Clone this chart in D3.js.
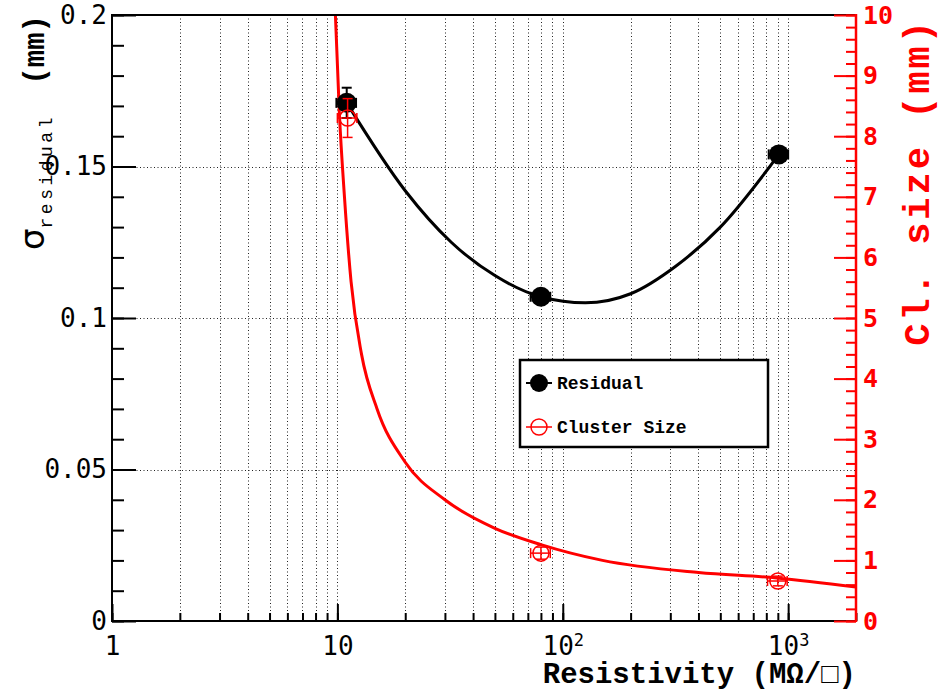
<!DOCTYPE html>
<html>
<head>
<meta charset="utf-8">
<script src="https://cdn.jsdelivr.net/npm/d3@7/dist/d3.min.js"></script>
<style>
  body { margin: 0; background: #fff; }
</style>
</head>
<body>
<div id="chart"></div>
<script>
// Residual points (left axis, mm)
var resX = [11, 80, 910];
var resY = [0.171, 0.107, 0.154];
var resYErr = [0.005, 0.002, 0.002];
var resXErr = [1.1, 8, 90];

// Cluster size points (right axis, mm)
var clX = [11.1, 80, 900];
var clY = [8.3, 1.12, 0.66];
var clYErr = [0.32, 0.1, 0.08];
var clXErr = [1.1, 8, 90];

// fit curves
var resFitX = [11, 20, 32, 50, 80, 126, 200, 316, 500, 910];
var resFitY = [0.171, 0.142, 0.125, 0.114, 0.107, 0.105, 0.108, 0.117, 0.130, 0.154];
var clFitX = [9.8, 10.2, 10.75, 11.5, 12.8, 15, 20, 30, 50, 80, 150, 400, 890, 2000];
var clFitY = [10, 8.4, 7.0, 5.6, 4.4, 3.5, 2.62, 2.0, 1.53, 1.26, 1.0, 0.8, 0.71, 0.56];

// axis tick labels
var xMajor = [1, 10, 100, 1000];
var xLabelBase = ["1", "10", "10", "10"];
var xLabelExp = ["", "", "2", "3"];
var yLeftMajor = [0, 0.05, 0.1, 0.15, 0.2];
var yLeftLabels = ["0", "0.05", "0.1", "0.15", "0.2"];

var legendNames = ["Residual", "Cluster Size"];

var width = 940, height = 691;
var pLeft = 112, pRight = 856, pTop = 15, pBottom = 621;
var red = "#ff0000";

var svg = d3.select("#chart").append("svg")
    .attr("width", width)
    .attr("height", height);

// Scales
var x = d3.scaleLog().domain([1, 2000]).range([pLeft, pRight]);
var yL = d3.scaleLinear().domain([0, 0.2]).range([pBottom, pTop]);
var yR = d3.scaleLinear().domain([0, 10]).range([pBottom, pTop]);

// Grid (dotted)
var grid = svg.append("g")
    .attr("stroke", "#222")
    .attr("stroke-width", 1)
    .attr("stroke-dasharray", "1,2.5");

grid.selectAll("line.v")
    .data(x.ticks().filter(function(d) { return d > 1 && d < 2000; }))
    .enter().append("line")
    .attr("class", "v")
    .attr("x1", function(d) { return Math.round(x(d)) + 0.5; })
    .attr("x2", function(d) { return Math.round(x(d)) + 0.5; })
    .attr("y1", pTop)
    .attr("y2", pBottom);

grid.selectAll("line.h")
    .data(yLeftMajor.filter(function(d) { return d > 0 && d < 0.2; }))
    .enter().append("line")
    .attr("class", "h")
    .attr("x1", pLeft)
    .attr("x2", pRight)
    .attr("y1", function(d) { return Math.round(yL(d)) + 0.5; })
    .attr("y2", function(d) { return Math.round(yL(d)) + 0.5; });

// clip for curves
svg.append("clipPath").attr("id", "plotclip")
  .append("rect")
    .attr("x", pLeft).attr("y", pTop)
    .attr("width", pRight - pLeft).attr("height", pBottom - pTop);

// Fit lines
var resLine = d3.line()
    .x(function(d, i) { return x(resFitX[i]); })
    .y(function(d) { return yL(d); })
    .curve(d3.curveMonotoneX);

var clLine = d3.line()
    .x(function(d, i) { return x(clFitX[i]); })
    .y(function(d) { return yR(d); })
    .curve(d3.curveMonotoneX);

svg.append("path")
    .datum(clFitY)
    .attr("clip-path", "url(#plotclip)")
    .attr("fill", "none")
    .attr("stroke", red)
    .attr("stroke-width", 3)
    .attr("d", clLine);

svg.append("path")
    .datum(resFitY)
    .attr("clip-path", "url(#plotclip)")
    .attr("fill", "none")
    .attr("stroke", "#000")
    .attr("stroke-width", 3)
    .attr("d", resLine);

// error bars helper
function errorBars(g, xs, ys, xe, ye, yScale, color, sw, cap) {
    xs.forEach(function(xv, i) {
        var cx = x(xv), cy = yScale(ys[i]);
        var y1 = yScale(ys[i] + ye[i]), y2 = yScale(ys[i] - ye[i]);
        var x1 = x(xv - xe[i]), x2 = x(xv + xe[i]);
        var lines = [
            [cx, y1, cx, y2], [cx - cap, y1, cx + cap, y1], [cx - cap, y2, cx + cap, y2],
            [x1, cy, x2, cy], [x1, cy - cap, x1, cy + cap], [x2, cy - cap, x2, cy + cap]
        ];
        lines.forEach(function(l) {
            g.append("line")
                .attr("x1", l[0]).attr("y1", l[1]).attr("x2", l[2]).attr("y2", l[3])
                .attr("stroke", color).attr("stroke-width", sw);
        });
    });
}

var resG = svg.append("g");
errorBars(resG, resX, resY, resXErr, resYErr, yL, "#000", 2, 5);
resG.selectAll("circle")
    .data(resY)
    .enter().append("circle")
    .attr("cx", function(d, i) { return x(resX[i]); })
    .attr("cy", function(d) { return yL(d); })
    .attr("r", 10)
    .attr("fill", "#000");

var clG = svg.append("g");
errorBars(clG, clX, clY, clXErr, clYErr, yR, red, 1.5, 5);
clG.selectAll("circle")
    .data(clY)
    .enter().append("circle")
    .attr("cx", function(d, i) { return x(clX[i]); })
    .attr("cy", function(d) { return yR(d); })
    .attr("r", 8)
    .attr("fill", "none")
    .attr("stroke", red)
    .attr("stroke-width", 1.5);

// Frame
svg.append("rect")
    .attr("x", pLeft).attr("y", pTop)
    .attr("width", pRight - pLeft).attr("height", pBottom - pTop)
    .attr("fill", "none")
    .attr("stroke", "#000")
    .attr("stroke-width", 2);

// Left axis (ticks inward)
var axL = svg.append("g").attr("transform", "translate(" + pLeft + ",0)");
axL.call(d3.axisLeft(yL).tickValues(yL.ticks(20)).tickSize(-12).tickFormat(""));
axL.append("g").call(d3.axisLeft(yL).tickValues(yLeftMajor).tickSize(-24).tickPadding(5)
    .tickFormat(function(d, i) { return yLeftLabels[i]; }));
axL.selectAll(".domain").remove();
axL.selectAll("line").attr("stroke", "#000").attr("stroke-width", 2);
axL.selectAll("text")
    .attr("fill", "#000")
    .style("font-family", "'DejaVu Sans Mono', monospace")
    .style("font-size", "26px");

// Bottom axis
var axB = svg.append("g").attr("transform", "translate(0," + pBottom + ")");
axB.call(d3.axisBottom(x).tickValues(x.ticks()).tickSize(-8).tickFormat(""));
var axBMajor = axB.append("g").call(d3.axisBottom(x).tickValues(xMajor).tickSize(-17).tickPadding(16)
    .tickFormat(function(d, i) { return xLabelBase[i]; }));
axB.selectAll(".domain").remove();
axB.selectAll("line").attr("stroke", "#000").attr("stroke-width", 2);
axBMajor.selectAll("text")
    .attr("fill", "#000")
    .style("font-family", "'DejaVu Sans Mono', monospace")
    .style("font-size", "26px")
    .each(function(d, i) {
        if (xLabelExp[i]) {
            d3.select(this).append("tspan")
                .attr("dy", "-0.55em")
                .style("font-size", "17px")
                .text(xLabelExp[i]);
        }
    });

// Right axis (red)
var axR = svg.append("g").attr("transform", "translate(" + pRight + ",0)");
axR.call(d3.axisRight(yR).tickValues(yR.ticks(50)).tickSize(-10).tickFormat(""));
axR.append("g").call(d3.axisRight(yR).tickValues(yR.ticks(10)).tickSize(-22).tickPadding(7)
    .tickFormat(d3.format("d")));
axR.selectAll(".domain").remove();
axR.selectAll("line").attr("stroke", red).attr("stroke-width", 2);
axR.selectAll("text")
    .attr("fill", red)
    .style("font-family", "'DejaVu Sans Mono', monospace")
    .style("font-weight", "bold")
    .style("font-size", "25px");
axR.append("line")
    .attr("x1", 0).attr("x2", 0).attr("y1", pTop - 1).attr("y2", pBottom + 1)
    .attr("stroke", red).attr("stroke-width", 2.5);

// Axis titles
var lt = svg.append("text")
    .attr("transform", "translate(44," + pTop + ") rotate(-90)")
    .attr("text-anchor", "end")
    .attr("fill", "#000")
    .style("font-family", "'Liberation Mono', monospace");
lt.append("tspan").style("font-family", "'DejaVu Sans', sans-serif").style("font-size", "34px").text("σ");
lt.append("tspan").attr("dy", 8).style("font-size", "18px").style("letter-spacing", "3.5px").text("residual");
lt.append("tspan").attr("dy", -8).attr("dx", 12).style("font-size", "29px").style("font-weight", "bold").text(" (mm)");

svg.append("text")
    .attr("transform", "translate(929,18) rotate(-90)")
    .attr("text-anchor", "end")
    .attr("fill", red)
    .style("font-family", "'Liberation Mono', monospace")
    .style("font-weight", "bold")
    .style("font-size", "37px")
    .style("letter-spacing", "3px")
    .text("Cl. size (mm)");

svg.append("text")
    .attr("x", pRight)
    .attr("y", 683)
    .attr("text-anchor", "end")
    .attr("fill", "#000")
    .style("font-family", "'Liberation Mono', monospace")
    .style("font-weight", "bold")
    .style("font-size", "29px")
    .text("Resistivity (MΩ/□)");

// Legend
var lg = svg.append("g");
lg.append("rect")
    .attr("x", 520).attr("y", 360).attr("width", 248).attr("height", 87)
    .attr("fill", "#fff").attr("stroke", "#000").attr("stroke-width", 2.5);

var legY = d3.scalePoint().domain(legendNames).range([383, 427]);
lg.selectAll("line.leg")
    .data(legendNames)
    .enter().append("line")
    .attr("class", "leg")
    .attr("x1", 526).attr("x2", 552)
    .attr("y1", function(d) { return legY(d); })
    .attr("y2", function(d) { return legY(d); })
    .attr("stroke", function(d, i) { return i === 0 ? "#000" : red; })
    .attr("stroke-width", function(d, i) { return i === 0 ? 2 : 1.5; });
lg.append("circle")
    .attr("cx", 539).attr("cy", legY(legendNames[0])).attr("r", 9).attr("fill", "#000");
lg.append("circle")
    .attr("cx", 539).attr("cy", legY(legendNames[1])).attr("r", 8)
    .attr("fill", "none").attr("stroke", red).attr("stroke-width", 1.5);
lg.selectAll("text")
    .data(legendNames)
    .enter().append("text")
    .attr("x", 557)
    .attr("y", function(d) { return legY(d) + 6; })
    .attr("fill", "#000")
    .style("font-family", "'Liberation Mono', monospace")
    .style("font-weight", "bold")
    .style("font-size", "18px")
    .text(function(d) { return d; });
</script>
</body>
</html>
